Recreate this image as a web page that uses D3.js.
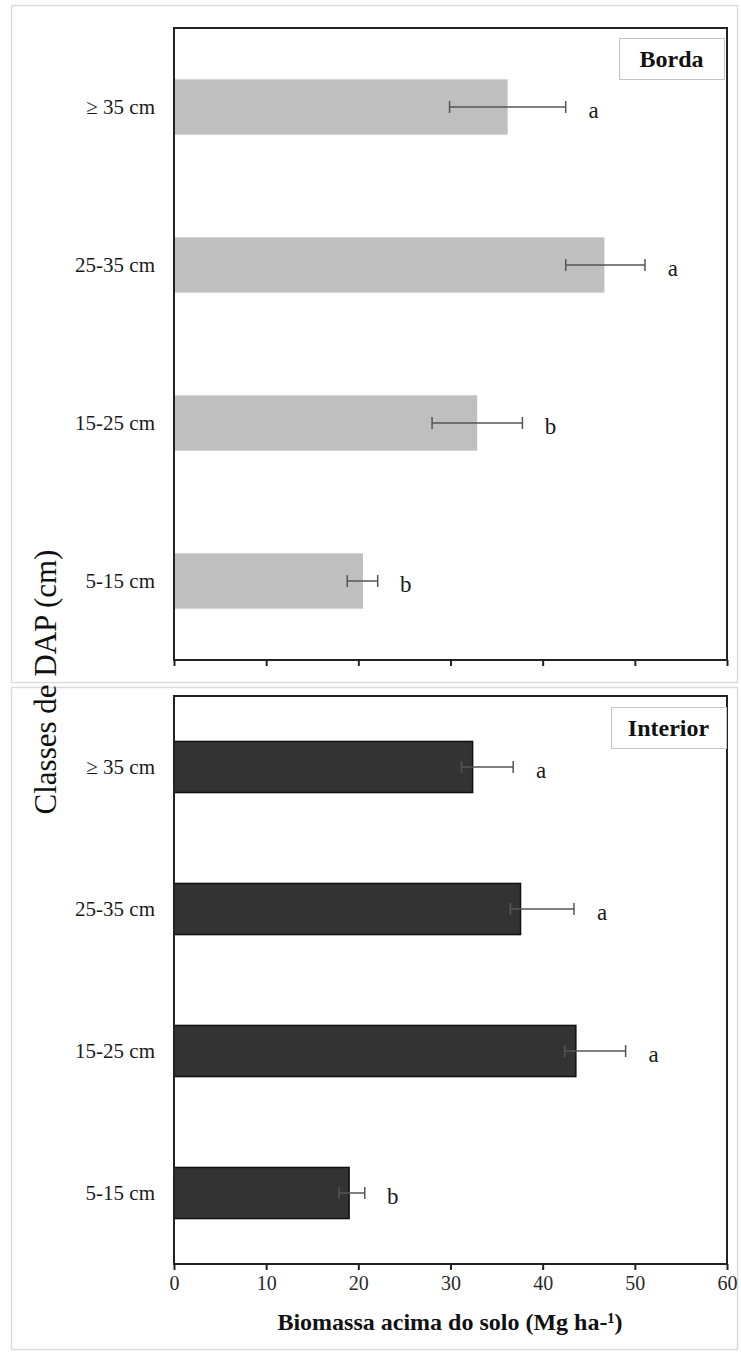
<!DOCTYPE html>
<html>
<head>
<meta charset="utf-8">
<script src="https://cdn.jsdelivr.net/npm/d3@7"></script>
<style>
  html, body { margin: 0; padding: 0; background: #ffffff; }
  svg { display: block; }
  text { font-family: "Liberation Serif", "Times New Roman", serif; }
</style>
</head>
<body>
<svg id="chart" width="741" height="1355"></svg>
<script>
// DBH classes, listed top to bottom
const classes = ["≥ 35 cm", "25-35 cm", "15-25 cm", "5-15 cm"];

// Edge ("Borda") plots: above-ground biomass (Mg ha-1) and error bar ends
const bordaValues = [36.2, 46.7, 32.9, 20.5];
const bordaErrLow = [29.9, 42.5, 28.0, 18.8];
const bordaErrHigh = [42.5, 51.1, 37.8, 22.1];
const bordaLetters = ["a", "a", "b", "b"];

// Interior plots
const interiorValues = [32.4, 37.6, 43.6, 19.0];
const interiorErrLow = [31.2, 36.5, 42.4, 17.9];
const interiorErrHigh = [36.8, 43.4, 49.0, 20.7];
const interiorLetters = ["a", "a", "a", "b"];

const xTicks = [0, 10, 20, 30, 40, 50, 60];
const xTitle = "Biomassa acima do solo (Mg ha-\u00B9)";
const yTitle = "Classes de DAP (cm)";

const svg = d3.select("#chart");

const x = d3.scaleLinear().domain([0, 60]).range([174, 727]);

// light outer borders of the two stacked panels
svg.append("rect").attr("x", 11.5).attr("y", 5.5).attr("width", 726).attr("height", 677)
  .attr("fill", "none").attr("stroke", "#dcdcdc").attr("stroke-width", 1.5);
svg.append("rect").attr("x", 11.5).attr("y", 687.5).attr("width", 726).attr("height", 662)
  .attr("fill", "none").attr("stroke", "#dcdcdc").attr("stroke-width", 1.5);

function panel(opts) {
  const g = svg.append("g");
  const y = d3.scaleBand().domain(classes).range([opts.y0, opts.y1])
    .paddingInner(opts.pad).paddingOuter(opts.pad / 2);
  const rows = classes.map((c, i) => ({
    c, v: opts.values[i], lo: opts.errLow[i], hi: opts.errHigh[i], letter: opts.letters[i]
  }));

  // bars
  g.selectAll("rect.bar").data(rows).enter().append("rect")
    .attr("class", "bar")
    .attr("x", x(0))
    .attr("y", d => y(d.c))
    .attr("width", d => x(d.v) - x(0))
    .attr("height", y.bandwidth())
    .attr("fill", opts.fill)
    .attr("stroke", opts.stroke)
    .attr("stroke-width", opts.stroke === "none" ? 0 : 1.5);

  // error bars
  const eb = g.selectAll("g.err").data(rows).enter().append("g").attr("class", "err")
    .attr("stroke", "#555").attr("stroke-width", 1.5);
  const cy = d => y(d.c) + y.bandwidth() / 2;
  eb.append("line").attr("x1", d => x(d.lo)).attr("x2", d => x(d.hi))
    .attr("y1", cy).attr("y2", cy);
  eb.append("line").attr("x1", d => x(d.lo)).attr("x2", d => x(d.lo))
    .attr("y1", d => cy(d) - 6).attr("y2", d => cy(d) + 6);
  eb.append("line").attr("x1", d => x(d.hi)).attr("x2", d => x(d.hi))
    .attr("y1", d => cy(d) - 6).attr("y2", d => cy(d) + 6);

  // significance letters
  g.selectAll("text.letter").data(rows).enter().append("text")
    .attr("class", "letter")
    .attr("x", d => x(d.hi) + 28)
    .attr("y", d => cy(d) + 11)
    .attr("text-anchor", "middle")
    .attr("font-size", 23)
    .attr("fill", "#1a1a1a")
    .text(d => d.letter);

  // category labels
  g.selectAll("text.cat").data(rows).enter().append("text")
    .attr("class", "cat")
    .attr("x", 155)
    .attr("y", d => cy(d) + 7)
    .attr("text-anchor", "end")
    .attr("font-size", 21)
    .attr("fill", "#1a1a1a")
    .text(d => d.c);

  // frame
  g.append("rect").attr("x", x(0)).attr("y", opts.y0)
    .attr("width", x(60) - x(0)).attr("height", opts.y1 - opts.y0)
    .attr("fill", "none").attr("stroke", "#222").attr("stroke-width", 2);

  // bottom axis ticks
  const axis = d3.axisBottom(x).tickValues(xTicks).tickSize(6).tickSizeOuter(0).tickPadding(6);
  if (!opts.showTickLabels) axis.tickFormat(() => "");
  const ax = g.append("g").attr("transform", `translate(0,${opts.y1})`).call(axis);
  ax.select(".domain").remove();
  ax.selectAll(".tick line").attr("stroke", "#222").attr("stroke-width", 2);
  ax.selectAll(".tick text").attr("font-family", "'Liberation Serif', 'Times New Roman', serif")
    .attr("font-size", 20).attr("fill", "#2a2a2a");

  // legend box
  const lg = g.append("g");
  lg.append("rect").attr("x", opts.box[0] + 0.5).attr("y", opts.box[1] + 0.5)
    .attr("width", opts.box[2]).attr("height", opts.box[3])
    .attr("fill", "#fff").attr("stroke", "#c4c4c4").attr("stroke-width", 1);
  lg.append("text").attr("x", opts.box[0] + opts.box[2] / 2)
    .attr("y", opts.box[1] + opts.box[3] / 2 + 8)
    .attr("text-anchor", "middle").attr("font-size", 24).attr("font-weight", "bold")
    .attr("fill", "#111").text(opts.name);
}

panel({
  y0: 28, y1: 660, pad: 0.65,
  values: bordaValues, errLow: bordaErrLow, errHigh: bordaErrHigh, letters: bordaLetters,
  fill: "#bfbfbf", stroke: "none", showTickLabels: false,
  box: [619, 38, 105, 41], name: "Borda"
});

panel({
  y0: 696, y1: 1264, pad: 0.64,
  values: interiorValues, errLow: interiorErrLow, errHigh: interiorErrHigh, letters: interiorLetters,
  fill: "#333333", stroke: "#111", showTickLabels: true,
  box: [611, 707, 115, 41], name: "Interior"
});

// axis titles
svg.append("text")
  .attr("x", 450).attr("y", 1330)
  .attr("text-anchor", "middle").attr("font-size", 24).attr("font-weight", "bold")
  .attr("fill", "#111").text(xTitle);

svg.append("text")
  .attr("transform", "translate(56,682) rotate(-90)")
  .attr("text-anchor", "middle").attr("font-size", 31)
  .attr("fill", "#111").text(yTitle);
</script>
</body>
</html>
